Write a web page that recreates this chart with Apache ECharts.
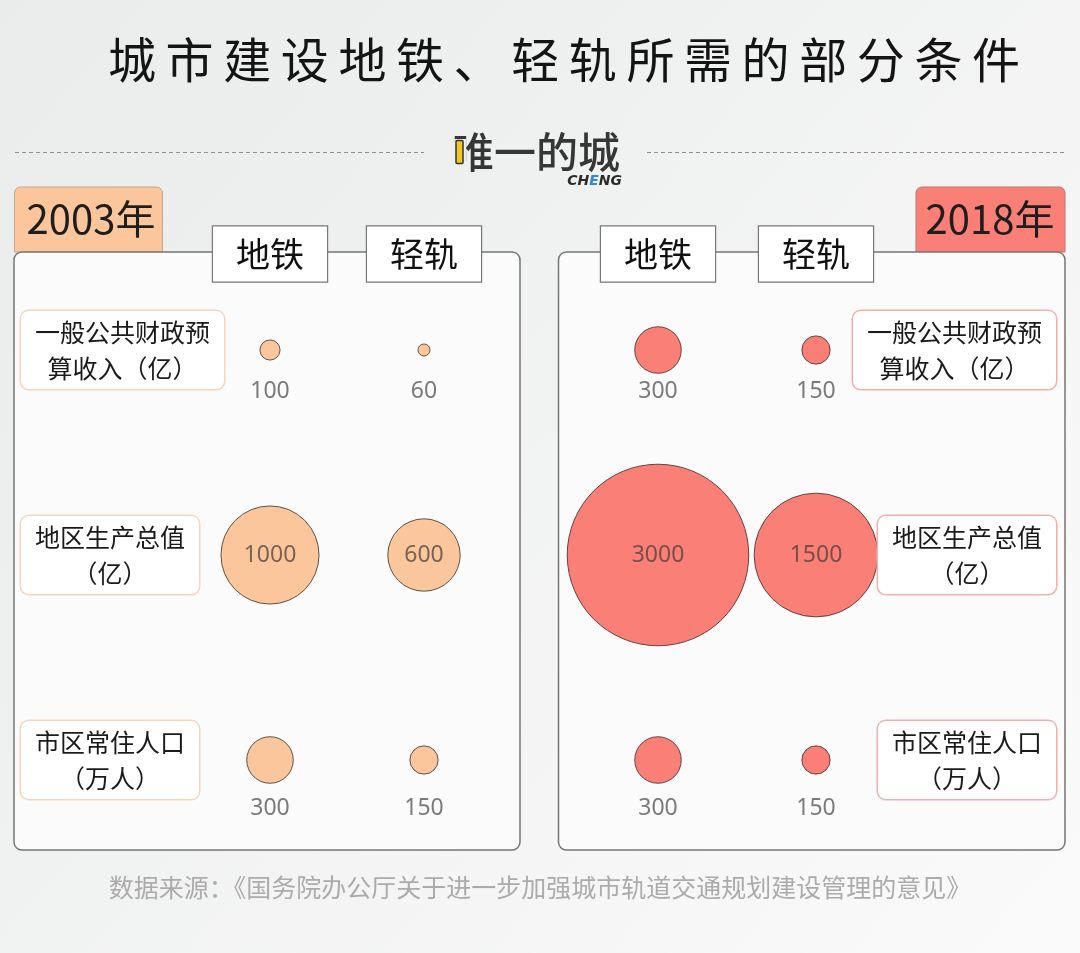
<!DOCTYPE html>
<html>
<head>
<meta charset="utf-8">
<script src="https://cdn.jsdelivr.net/npm/echarts@6/dist/echarts.min.js"></script>
<style>html,body{margin:0;padding:0;background:#f3f4f3;}#c{width:1080px;height:953px;}</style>
</head>
<body>
<div id="c"></div>
<script>
// ---- data ----
const title = '城\u2009市\u2009建\u2009设\u2009地\u2009铁\u2009、\u2009轻\u2009轨\u2009所\u2009需\u2009的\u2009部\u2009分\u2009条\u2009件';
const years = ['2003年', '2018年'];
const types = ['地铁', '轻轨'];
const indicators = ['一般公共财政预\n算收入（亿）', '地区生产总值\n（亿）', '市区常住人口\n（万人）'];
const values2003 = [[100, 60], [1000, 600], [300, 150]];
const values2018 = [[300, 150], [3000, 1500], [300, 150]];
const source = '数据来源：《国务院办公厅关于进一步加强城市轨道交通规划建设管理的意见》';

const FONT = "'Noto Sans CJK SC', 'Noto Sans', sans-serif";
const PEACH = '#fcc69d', SALMON = '#fa7f77';

function build(values) {
  const out = [];
  values.forEach((row, r) => row.forEach((v, c) => {
    const big = v >= 600;
    out.push({
      value: [c, r, v],
      label: big
        ? { position: 'inside', color: 'rgba(70,60,55,0.72)' }
        : { position: 'inside', offset: [0, r === 0 ? 41 : 48], color: '#7a7a7a' }
    });
  }));
  return out;
}
const sizeFn = val => 3.605 * Math.sqrt(val[2]) - 15.92;

const headerLabel = {
  interval: 0, fontSize: 34, color: '#111', backgroundColor: '#fff',
  borderColor: '#777', borderWidth: 1.2, padding: [8, 23], lineHeight: 39,
  verticalAlign: 'middle', margin: -6.5
};
function rowLabel(align, margin, border) {
  return {
    interval: 0, align: align, margin: margin, verticalAlign: 'middle',
    backgroundColor: '#fff', borderColor: border, borderWidth: 1.5, borderRadius: 8,
    padding: [3, 14],
    formatter: v => v.split('\n').map(s => '{c|' + s + '}').join('\n'),
    rich: { c: { align: 'center', fontSize: 25, lineHeight: 36, color: '#1a1a1a', fontFamily: FONT } }
  };
}
const hiddenAxis = { axisLine: { show: false }, axisTick: { show: false }, splitLine: { show: false } };

const chart = echarts.init(document.getElementById('c'));
const option = {
  animation: false,
  textStyle: { fontFamily: FONT },
  grid: [
    { left: 193, top: 247.5, width: 308, height: 615 },
    { left: 579, top: 247.5, width: 316, height: 615 }
  ],
  xAxis: [
    Object.assign({ type: 'category', gridIndex: 0, position: 'top', data: types, z: 10, axisLabel: headerLabel }, hiddenAxis),
    Object.assign({ type: 'category', gridIndex: 1, position: 'top', data: types, z: 10, axisLabel: headerLabel }, hiddenAxis)
  ],
  yAxis: [
    Object.assign({ type: 'category', gridIndex: 0, inverse: true, position: 'left', data: indicators, z: 10,
      axisLabel: rowLabel('left', 172, '#f6d4bd') }, hiddenAxis),
    Object.assign({ type: 'category', gridIndex: 1, inverse: true, position: 'right', data: indicators, z: 10,
      axisLabel: rowLabel('right', 161, '#f2b0ab') }, hiddenAxis)
  ],
  series: [
    { type: 'scatter', name: years[0], xAxisIndex: 0, yAxisIndex: 0, clip: false, data: build(values2003),
      symbolSize: sizeFn, itemStyle: { color: PEACH, borderColor: 'rgba(70,55,45,0.85)', borderWidth: 1, opacity: 1 },
      label: { show: true, fontSize: 23, fontFamily: "'Noto Sans', sans-serif", formatter: p => p.value[2] } },
    { type: 'scatter', name: years[1], xAxisIndex: 1, yAxisIndex: 1, clip: false, data: build(values2018),
      symbolSize: sizeFn, itemStyle: { color: SALMON, borderColor: 'rgba(80,45,45,0.85)', borderWidth: 1, opacity: 1 },
      label: { show: true, fontSize: 23, fontFamily: "'Noto Sans', sans-serif", formatter: p => p.value[2] } }
  ],
  graphic: [
    { type: 'rect', z: -100, shape: { x: 0, y: 0, width: 1080, height: 953 },
      style: { fill: new echarts.graphic.LinearGradient(0, 0, 1, 1, [{ offset: 0, color: '#e9ecea' }, { offset: 1, color: '#fafafa' }]) } },
    { type: 'text', z: 5, x: 564, y: 60, style: { text: title, font: "400 48px " + FONT, fill: '#141414', align: 'center', verticalAlign: 'middle' } },
    { type: 'line', z: 1, shape: { x1: 15, y1: 152.5, x2: 424, y2: 152.5 }, style: { stroke: '#8f8f8f', lineWidth: 1, lineDash: [4, 3] } },
    { type: 'line', z: 1, shape: { x1: 647, y1: 152.5, x2: 1065, y2: 152.5 }, style: { stroke: '#8f8f8f', lineWidth: 1, lineDash: [4, 3] } },
    { type: 'text', z: 5, x: 536, y: 152, style: { text: '唯一的城', font: "500 42px " + FONT, fill: '#363636', align: 'center', verticalAlign: 'middle' } },
    { type: 'rect', z: 6, shape: { x: 451, y: 139, width: 15, height: 28 }, style: { fill: '#edefee' } },
    { type: 'rect', z: 7, shape: { x: 456, y: 140.5, width: 7, height: 23, r: 1 }, style: { fill: '#f2c528', stroke: '#333', lineWidth: 1.5 } },
    { type: 'text', z: 5, x: 622, y: 181, style: {
        text: '{a|CH}{b|E}{a|NG}', align: 'right', verticalAlign: 'middle',
        rich: { a: { fontSize: 14, fontWeight: 900, fontStyle: 'italic', fontFamily: 'DejaVu Sans', fill: '#2b2b2b', color: '#2b2b2b' },
                b: { fontSize: 14, fontWeight: 900, fontStyle: 'italic', fontFamily: 'DejaVu Sans', fill: '#2e86de', color: '#2e86de' } } } },
    // year tabs
    { type: 'rect', z: -60, shape: { x: 14.5, y: 187, width: 148, height: 65, r: [6, 6, 0, 0] }, style: { fill: PEACH, stroke: '#c4a48e', lineWidth: 1 } },
    { type: 'text', z: 5, x: 91, y: 219, style: { text: years[0], font: "40px " + FONT, fill: '#1e1e1e', align: 'center', verticalAlign: 'middle' } },
    { type: 'rect', z: -60, shape: { x: 916, y: 187, width: 149, height: 65, r: [6, 6, 0, 0] }, style: { fill: SALMON, stroke: '#b97670', lineWidth: 1 } },
    { type: 'text', z: 5, x: 990, y: 219, style: { text: years[1], font: "40px " + FONT, fill: '#1e1e1e', align: 'center', verticalAlign: 'middle' } },
    // panels
    { type: 'rect', z: -50, shape: { x: 14, y: 252, width: 506, height: 598, r: 8 }, style: { fill: '#fbfbfb', stroke: '#757575', lineWidth: 1.5 } },
    { type: 'rect', z: -50, shape: { x: 558.5, y: 252, width: 506.5, height: 598, r: 8 }, style: { fill: '#fbfbfb', stroke: '#757575', lineWidth: 1.5 } },
    { type: 'text', z: 5, x: 540, y: 887, style: { text: source, font: "25px " + FONT, fill: '#ababab', align: 'center', verticalAlign: 'middle' } }
  ]
};
chart.setOption(option);
</script>
</body>
</html>
